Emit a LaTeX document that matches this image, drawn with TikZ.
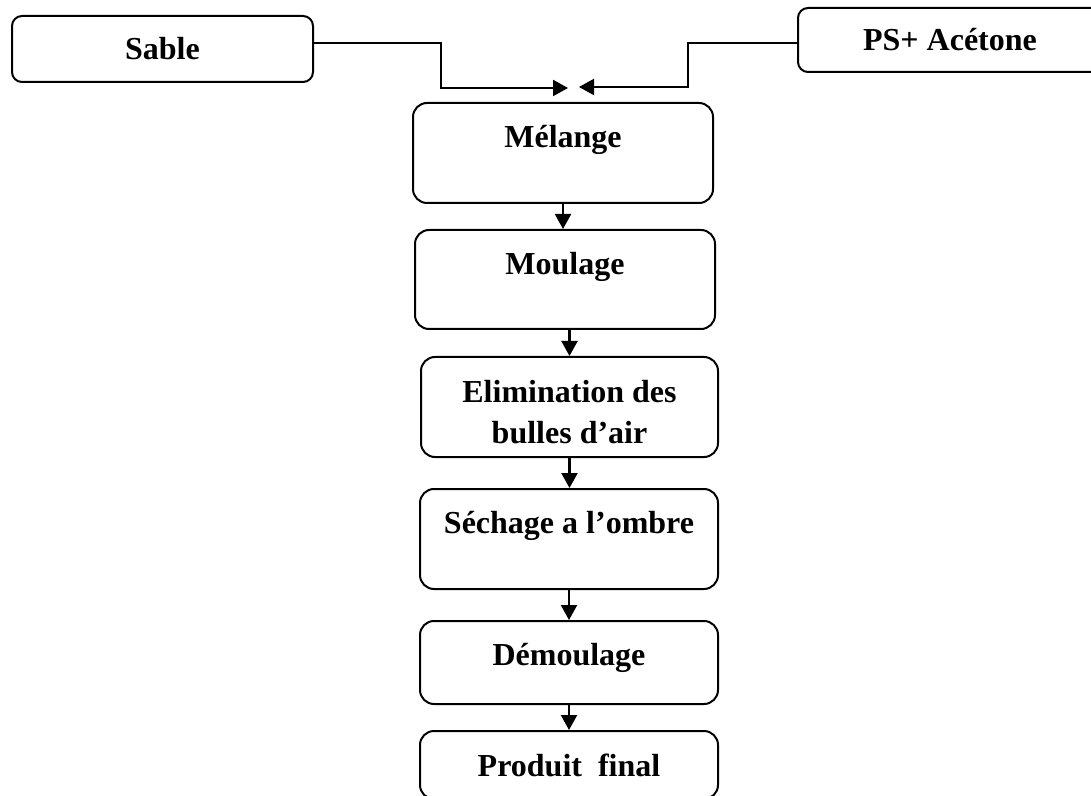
\documentclass[tikz,border=0pt]{standalone}
\usepackage{fontspec}
\setmainfont{Liberation Serif}
\usetikzlibrary{arrows.meta}

\begin{document}
\begin{tikzpicture}[
    x=0.5pt, y=-0.5pt,
    etape/.style={draw, line width=1pt, rounded corners=7pt, inner sep=0pt,
        font=\fontsize{16}{20.5}\selectfont\bfseries, align=center},
    uneligne/.style={text height=11pt, text depth=#1},
    uneligne/.default=0pt,
    fleche/.style={-{Triangle[length=7.5pt,width=8pt]}, line width=1.1pt}
]
    \useasboundingbox (0,0) rectangle (1091,796);
    \clip (0,0) rectangle (1091,796);

    % entrees
    \node[etape, uneligne, rounded corners=5pt, minimum width=150.5pt, minimum height=33pt] (sable) at (162.5,49) {Sable};
    \node[etape, uneligne, rounded corners=5pt, minimum width=152pt, minimum height=32pt] (ps) at (950,40) {PS+ Acétone};

    % etapes du procede
    \node[etape, uneligne=16pt, minimum width=150pt, minimum height=50pt] (melange) at (563,153) {Mélange};
    \node[etape, uneligne=15.5pt, minimum width=150pt, minimum height=49.5pt] (moulage) at (565,279.5) {Moulage};
    \node[etape, text height=36pt, text depth=0pt, minimum width=148.5pt, minimum height=50pt] (bulles) at (569.5,407) {Elimination des\\bulles d’air};
    \node[etape, uneligne=17pt, minimum width=149pt, minimum height=50pt] (sechage) at (569,539) {Séchage a l’ombre};
    \node[etape, uneligne=8.5pt, minimum width=149pt, minimum height=41.5pt] (demoulage) at (569,662.5) {Démoulage};
    \node[etape, uneligne, minimum width=149pt, minimum height=34pt] (produit) at (569,765) {Produit\ \ final};

    \coordinate (entreeG) at (568,88);
    \coordinate (entreeD) at (579,87);

    \draw[fleche] ([yshift=3pt]sable.east) -- ++(127,0) |- (entreeG);
    \draw[fleche] ([yshift=-1.5pt]ps.west) -- ++(-109,0) |- (entreeD);

    \draw[fleche] (melange.south) -- (melange.south |- moulage.north);
    \draw[fleche] (moulage.south -| bulles.north) -- (bulles.north);
    \draw[fleche] (bulles.south) -- (bulles.south |- sechage.north);
    \draw[fleche] (sechage.south) -- (demoulage.north);
    \draw[fleche] (demoulage.south) -- (produit.north);
\end{tikzpicture}
\end{document}
